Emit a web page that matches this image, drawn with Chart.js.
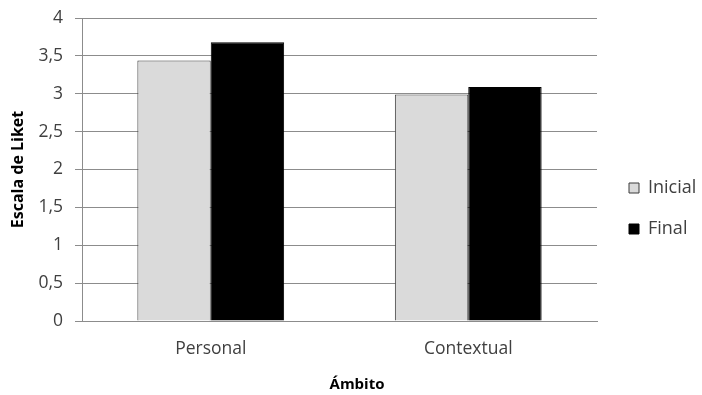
<!DOCTYPE html>
<html>
<head>
<meta charset="utf-8">
<script src="https://cdn.jsdelivr.net/npm/chart.js@4"></script>
<style>
  html, body { margin: 0; padding: 0; background: #ffffff; }
  #wrap { width: 702px; height: 395px; }
</style>
</head>
<body>
<div id="wrap"><canvas id="chart" width="702" height="395"></canvas></div>
<script>
// Ámbitos evaluados y medias en escala de Likert
const categories = ['Personal', 'Contextual'];
const inicialValues = [3.44, 2.99];
const finalValues = [3.68, 3.09];
const yTicks = [0, 0.5, 1, 1.5, 2, 2.5, 3, 3.5, 4];

const FONT = '"Open Sans", "DejaVu Sans", sans-serif';
const GRID = '#8c8c8c';
const TEXT = '#404040';

new Chart(document.getElementById('chart'), {
  type: 'bar',
  data: {
    labels: categories,
    datasets: [
      {
        label: 'Inicial',
        data: inicialValues,
        backgroundColor: '#dadada',
        borderColor: '#3a3a3a',
        borderWidth: 1,
        borderSkipped: 'bottom'
      },
      {
        label: 'Final',
        data: finalValues,
        backgroundColor: '#000000',
        borderColor: '#000000',
        borderWidth: 1,
        borderSkipped: 'bottom'
      }
    ]
  },
  options: {
    responsive: false,
    animation: false,
    devicePixelRatio: 1,
    layout: { padding: { top: 18, right: 0, bottom: 0, left: 12 } },
    datasets: { bar: { categoryPercentage: 0.57, barPercentage: 1.0 } },
    plugins: {
      tooltip: { enabled: false },
      // axis caption for the categories, centred under the whole figure
      title: {
        display: true,
        position: 'bottom',
        text: 'Ámbito',
        color: '#000000',
        font: { family: FONT, size: 15, weight: 'bold' },
        padding: { top: 3, bottom: 1 }
      },
      legend: {
        position: 'right',
        align: 'center',
        labels: {
          color: TEXT,
          font: { family: FONT, size: 18 },
          boxWidth: 10,
          boxHeight: 10,
          padding: 23
        }
      }
    },
    scales: {
      x: {
        grid: { display: false, drawTicks: false },
        border: { display: true, color: GRID, width: 1 },
        ticks: {
          color: TEXT,
          font: { family: FONT, size: 17.5 },
          padding: 18
        },
        afterFit(scale) { scale.height = 52; }
      },
      y: {
        min: 0,
        max: 4,
        afterBuildTicks(scale) {
          scale.ticks = yTicks.map(v => ({ value: v }));
        },
        grid: {
          color: GRID,
          lineWidth: 1,
          tickLength: 7,
          drawTicks: true
        },
        border: { display: true, color: GRID, width: 1 },
        ticks: {
          color: TEXT,
          font: { family: FONT, size: 17.5 },
          padding: 12,
          callback: v => String(v).replace('.', ',')
        },
        title: {
          display: true,
          text: 'Escala de Liket',
          color: '#000000',
          font: { family: FONT, size: 16, weight: 'bold', lineHeight: 0.8 },
          padding: { top: 0, bottom: 0 }
        },
        afterFit(scale) {
          scale.width = 70;
          // label half-heights only; tick padding is horizontal here
          scale.paddingTop = 10;
          scale.paddingBottom = 10;
        }
      }
    }
  },
  plugins: [{
    id: 'legendPlacement',
    // reserve a fixed band on the right for the legend
    afterInit(chart) {
      const lg = chart.legend;
      const fit = lg.fit.bind(lg);
      lg.fit = function () { fit(); this.width = 105; };
    },
    // nudge the legend block within its band
    afterLayout(chart) {
      const lg = chart.legend;
      lg.left += 9; lg.right += 9;
      lg.top += 2; lg.bottom += 2;
    }
  }]
});
</script>
</body>
</html>
